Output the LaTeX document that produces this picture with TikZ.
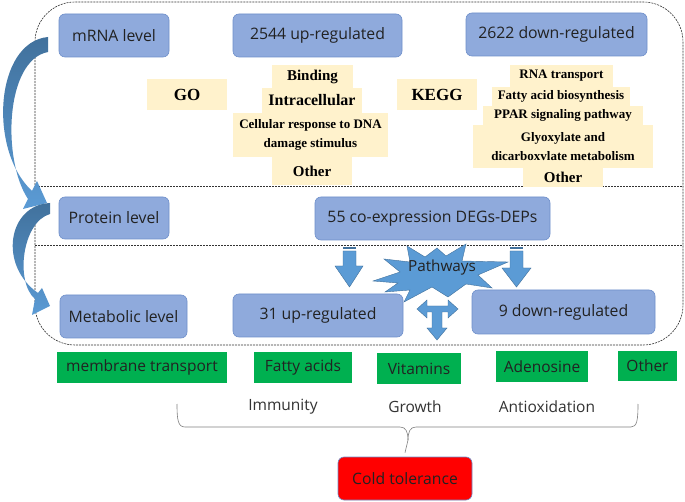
\documentclass[tikz,border=0pt]{standalone}
\usepackage{fontspec}
\setmainfont{Open Sans}
\newfontfamily\tnr{Liberation Serif}
\definecolor{boxblue}{HTML}{8FAADC}
\definecolor{boxedge}{HTML}{6E8FCA}
\definecolor{beige}{HTML}{FFF2CC}
\definecolor{grn}{HTML}{00B050}
\definecolor{arrblue}{HTML}{5B9BD5}
\definecolor{arrdark}{HTML}{41719C}
\definecolor{txt}{HTML}{222222}
\begin{document}
\begin{tikzpicture}[x=1pt,y=-1pt,
  bluebox/.style={rectangle, rounded corners=6pt, fill=boxblue, draw=boxedge, line width=0.6pt,
    inner sep=0pt, text=txt, font=\fontsize{15.8}{18}\selectfont},
  beigebox/.style={rectangle, fill=beige, inner sep=0pt, text=black, align=center},
  greenbox/.style={rectangle, fill=grn, inner sep=0pt, text=txt, font=\fontsize{15.5}{18}\selectfont},
  plainlbl/.style={text=black!80, font=\fontsize{15.5}{18}\selectfont},
  dashline/.style={draw=black!80, line width=0.6pt, dash pattern=on 2pt off 1pt},
  blockarrow/.style={fill=arrblue, draw=arrdark, line width=0.4pt},
  tnrA/.style={font=\tnr\bfseries\fontsize{17}{20}\selectfont},
  tnrB/.style={font=\tnr\bfseries\fontsize{15}{18}\selectfont},
  tnrC/.style={font=\tnr\bfseries\fontsize{13}{18.5}\selectfont}
]
\useasboundingbox (0,0) rectangle (685,502);
\fill[white] (0,0) rectangle (685,502);

% outer dashed frame and separators
\draw[dashline, rounded corners=40pt] (35,2) rectangle (683,345);
\draw[dashline] (35,186) -- (683,186);
\draw[dashline] (35,245) -- (683,245);

% blue boxes
\node[bluebox, minimum width=110pt, minimum height=43pt] (mrna) at (114,35.5) {mRNA level};
\node[bluebox, minimum width=169pt, minimum height=43pt] (up2544) at (317.5,35.5) {2544 up-regulated};
\node[bluebox, minimum width=181pt, minimum height=43pt] (down2622) at (556.5,34.5) {2622 down-regulated};
\node[bluebox, minimum width=110pt, minimum height=42pt] (protein) at (114,218) {Protein level};
\node[bluebox, minimum width=235pt, minimum height=43pt] (coexp) at (432.5,218.5) {55 co-expression DEGs-DEPs};
\node[bluebox, minimum width=127pt, minimum height=43pt] (metab) at (123.5,316.5) {Metabolic level};
\node[bluebox, minimum width=170pt, minimum height=43pt] (up31) at (318,315.5) {31 up-regulated};
\node[bluebox, minimum width=183pt, minimum height=44pt] (down9) at (563.5,312) {9 down-regulated};

% beige GO boxes
\node[beigebox, tnrA, minimum width=80pt, minimum height=31pt] (go) at (187,94.5) {GO};
\node[beigebox, tnrB, minimum width=81pt, minimum height=23pt] (binding) at (312.5,76.5) {Binding};
\node[beigebox, tnrB, font=\tnr\bfseries\fontsize{16}{18}\selectfont, minimum width=100pt, minimum height=25pt] (intra) at (312,100.5) {Intracellular};
\node[beigebox, tnrC, minimum width=155pt, minimum height=44pt] (cellular) at (310.5,135) {Cellular response to DNA\\damage stimulus};
\node[beigebox, tnrB, minimum width=80pt, minimum height=28pt] (goother) at (312,171) {Other};

% beige KEGG boxes
\node[beigebox, tnrA, minimum width=80pt, minimum height=31pt] (kegg) at (437,94.5) {KEGG};
\node[beigebox, tnrC, minimum width=103pt, minimum height=22pt] (rna) at (561.5,76) {RNA transport};
\node[beigebox, tnrC, minimum width=138pt, minimum height=19pt] (fatty) at (561,96.5) {Fatty acid biosynthesis};
\node[beigebox, tnrC, minimum width=160pt, minimum height=19pt] (ppar) at (563,115.5) {PPAR signaling pathway};
\node[beigebox, tnrC, minimum width=180pt, minimum height=43pt] (glyox) at (563,146.5) {Glyoxylate and\\dicarboxvlate metabolism};
\node[beigebox, tnrB, minimum width=80pt, minimum height=19pt] (keggother) at (563,177.5) {Other};

% curved arrows on the left
\shade[top color=arrdark, bottom color=arrblue]
  (48,37) -- (48,52) .. controls (5,60) and (2,160) .. (28,199)
  -- (23,209) -- (47,203) -- (37,181) -- (32,191)
  .. controls (-12,150) and (-5,42) .. (48,37) -- cycle;
\shade[top color=arrdark, bottom color=arrblue]
  (50,203) -- (50,214) .. controls (22,222) and (15,282) .. (35,299)
  -- (32,315) -- (50,306) -- (42,288) -- (38,293)
  .. controls (-2,265) and (8,205) .. (50,203) -- cycle;

% down block arrows
\filldraw[blockarrow] (343,251) -- (356,251) -- (356,266) -- (363,266) -- (349.5,287) -- (335,266) -- (343,266) -- cycle;
\fill[arrdark] (343,247.5) rectangle (356,249.5);
\filldraw[blockarrow] (510,251) -- (523,251) -- (523,268) -- (531,268) -- (516.5,287) -- (502,268) -- (510,268) -- cycle;
\fill[arrdark] (510,247.5) rectangle (523,249.5);

% pathways explosion
\filldraw[blockarrow]
  (373,281) -- (400,272) -- (384,259) -- (410,262) -- (407,246) -- (425,257) -- (437,248)
  -- (446,256) -- (466,244) -- (462,261) -- (508,262) -- (478,275) -- (492,288)
  -- (466,284) -- (448,297) -- (432,287) -- (404,302) -- (410,290) -- (385,292) -- (398,283) -- cycle;
\node[text=txt, font=\fontsize{15.3}{18}\selectfont] (pathways) at (442,268) {Pathways};

% left-right-down arrow
\filldraw[blockarrow] (417,309) -- (427,300) -- (427,306) -- (448,306) -- (448,300) -- (458,309)
  -- (448,318) -- (448,312) -- (442,312) -- (442,328) -- (447,328) -- (437,340) -- (427,328)
  -- (432,328) -- (432,312) -- (427,312) -- (427,318) -- cycle;

% green boxes
\node[greenbox, minimum width=170pt, minimum height=31pt] (memb) at (142,367.5) {membrane transport};
\node[greenbox, minimum width=98pt, minimum height=31pt] (fa) at (303,367.5) {Fatty acids};
\node[greenbox, minimum width=84pt, minimum height=31pt] (vit) at (419,368.5) {Vitamins};
\node[greenbox, minimum width=92pt, minimum height=31pt] (aden) at (542,366.5) {Adenosine};
\node[greenbox, minimum width=59pt, minimum height=30pt] (oth) at (647.5,366) {Other};

% function labels
\node[plainlbl] (imm) at (283,407) {Immunity};
\node[plainlbl] (gro) at (415,407) {Growth};
\node[plainlbl] (anti) at (547,407) {Antioxidation};

% cold tolerance
\node[rectangle, rounded corners=6pt, fill=red, draw=boxedge, line width=0.6pt, inner sep=0pt,
  minimum width=134pt, minimum height=43pt, text=txt, font=\fontsize{15.7}{18}\selectfont] (cold) at (405,478.5) {Cold tolerance};

% brace
\coordinate (bl) at (177,404);
\coordinate (br) at (638,404);
\coordinate (bm) at (408,440);
\draw[draw=black!50, line width=0.6pt]
  (bl) .. controls (177,420) and (178,427) .. (185,427) -- (400,427)
  .. controls (406,427) and (408,432) .. (bm) -- ([yshift=4pt]cold.north);
\draw[draw=black!50, line width=0.6pt]
  (bm) .. controls (408,432) and (410,427) .. (416,427) -- (631,427)
  .. controls (637,427) and (638,420) .. (br);
\end{tikzpicture}
\end{document}
